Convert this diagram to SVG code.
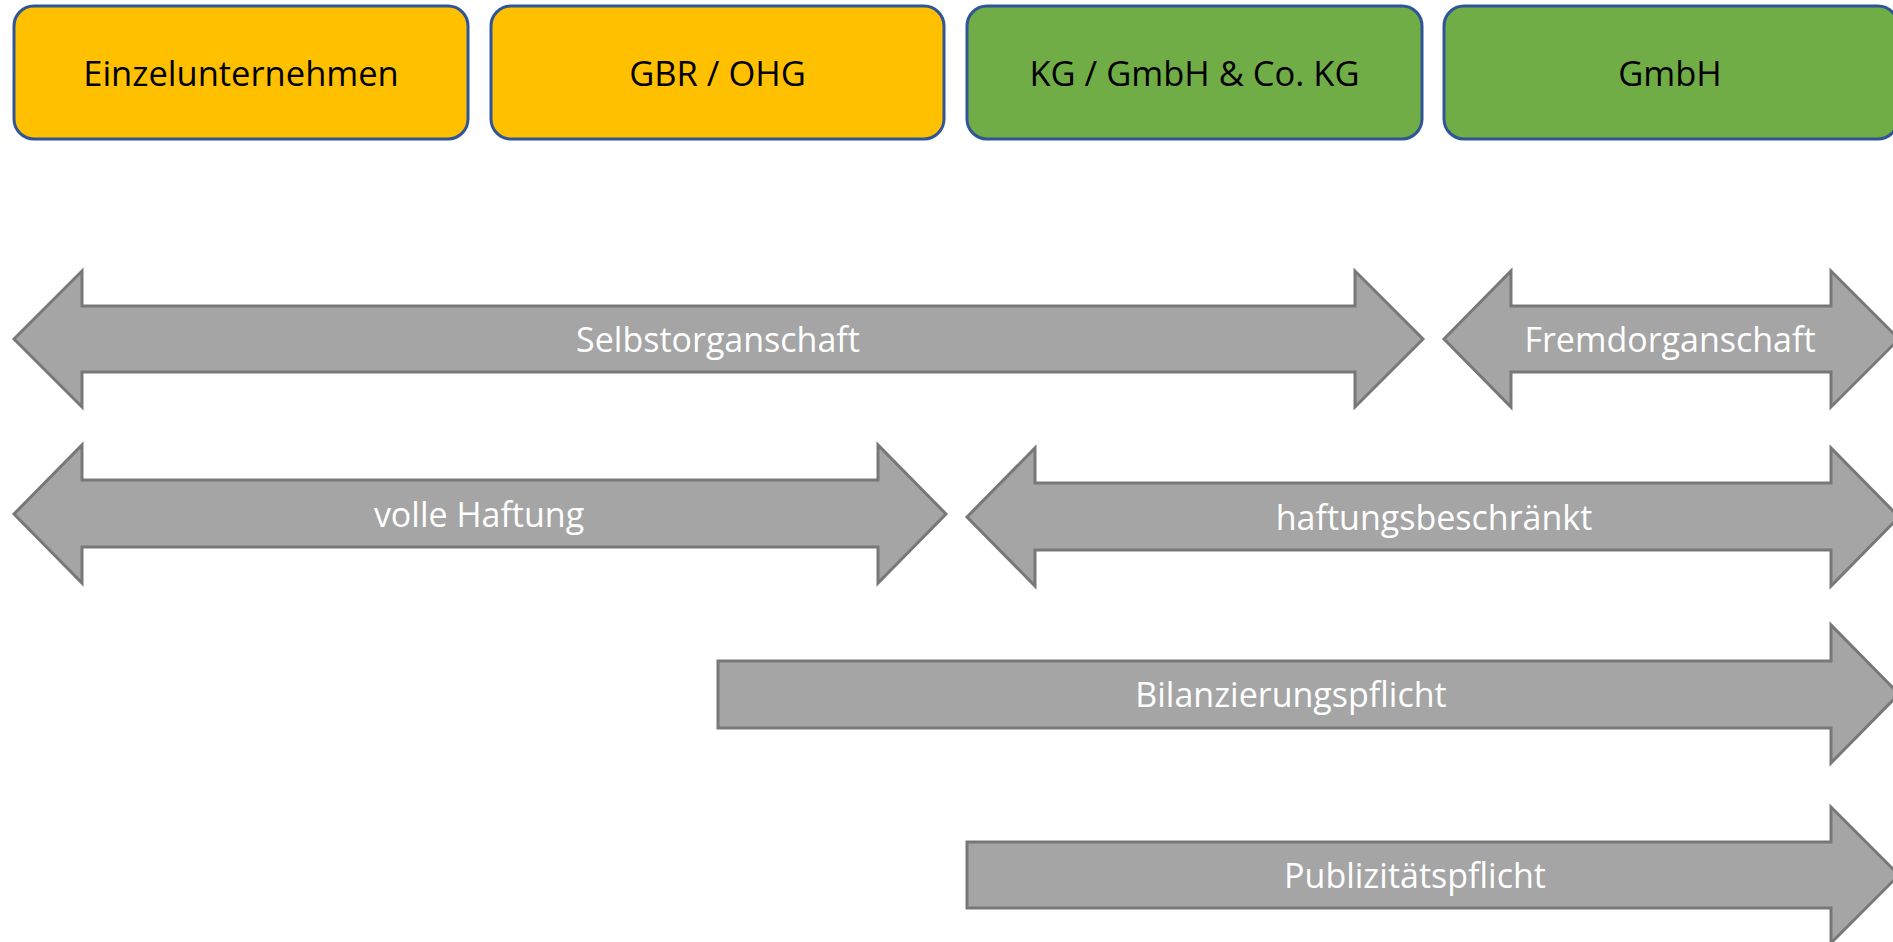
<svg xmlns="http://www.w3.org/2000/svg" width="1893" height="942" viewBox="0 0 1893 942">
<style>
.box{stroke:#2F5597;stroke-width:3}
.y{fill:#FFC000}
.g{fill:#70AD47}
.bt{font-family:"Open Sans","Liberation Sans",sans-serif;font-size:34.5px;fill:#000;text-anchor:middle}
.arr{fill:#A5A5A5;stroke:#787878;stroke-width:3;stroke-linejoin:miter}
.at{font-family:"Open Sans","Liberation Sans",sans-serif;font-size:34px;fill:#fff;text-anchor:middle}
</style>
<rect width="1893" height="942" fill="#fff"/>
<g id="node-einzel"><rect class="box y" x="14" y="6" width="454" height="133" rx="20"/><text class="bt" x="241" y="86">Einzelunternehmen</text></g>
<g id="node-gbr"><rect class="box y" x="491" y="6" width="453" height="133" rx="20"/><text class="bt" x="717.5" y="86">GBR / OHG</text></g>
<g id="node-kg"><rect class="box g" x="967" y="6" width="455" height="133" rx="20"/><text class="bt" x="1194.5" y="86">KG / GmbH &amp; Co. KG</text></g>
<g id="node-gmbh"><rect class="box g" x="1444" y="6" width="454" height="133" rx="20"/><text class="bt" x="1670" y="86">GmbH</text></g>
<g id="connectors">
<g id="arrow-selbst"><polygon class="arr" points="14,339 82,271 82,306 1355,306 1355,271 1423,339 1355,407 1355,372 82,372 82,407"/><text class="at" x="718" y="352">Selbstorganschaft</text></g>
<g id="arrow-fremd"><polygon class="arr" points="1444,339 1511,271 1511,306 1831,306 1831,271 1899,339 1831,407 1831,372 1511,372 1511,407"/><text class="at" x="1670" y="352">Fremdorganschaft</text></g>
<g id="arrow-volle"><polygon class="arr" points="14,514 82,445 82,480 878,480 878,445 946,514 878,583 878,547 82,547 82,583"/><text class="at" x="479" y="527">volle Haftung</text></g>
<g id="arrow-haft"><polygon class="arr" points="967,517 1035,448 1035,483 1831,483 1831,448 1899,517 1831,586 1831,550 1035,550 1035,586"/><text class="at" x="1434" y="530">haftungsbeschränkt</text></g>
<g id="arrow-bilanz"><polygon class="arr" points="718,661 1831,661 1831,625 1899,694 1831,763 1831,728 718,728"/><text class="at" x="1291" y="707">Bilanzierungspflicht</text></g>
<g id="arrow-publ"><polygon class="arr" points="967,842 1831,842 1831,807 1899,875 1831,943 1831,908 967,908"/><text class="at" x="1415" y="888">Publizitätspflicht</text></g>
</g>
</svg>
